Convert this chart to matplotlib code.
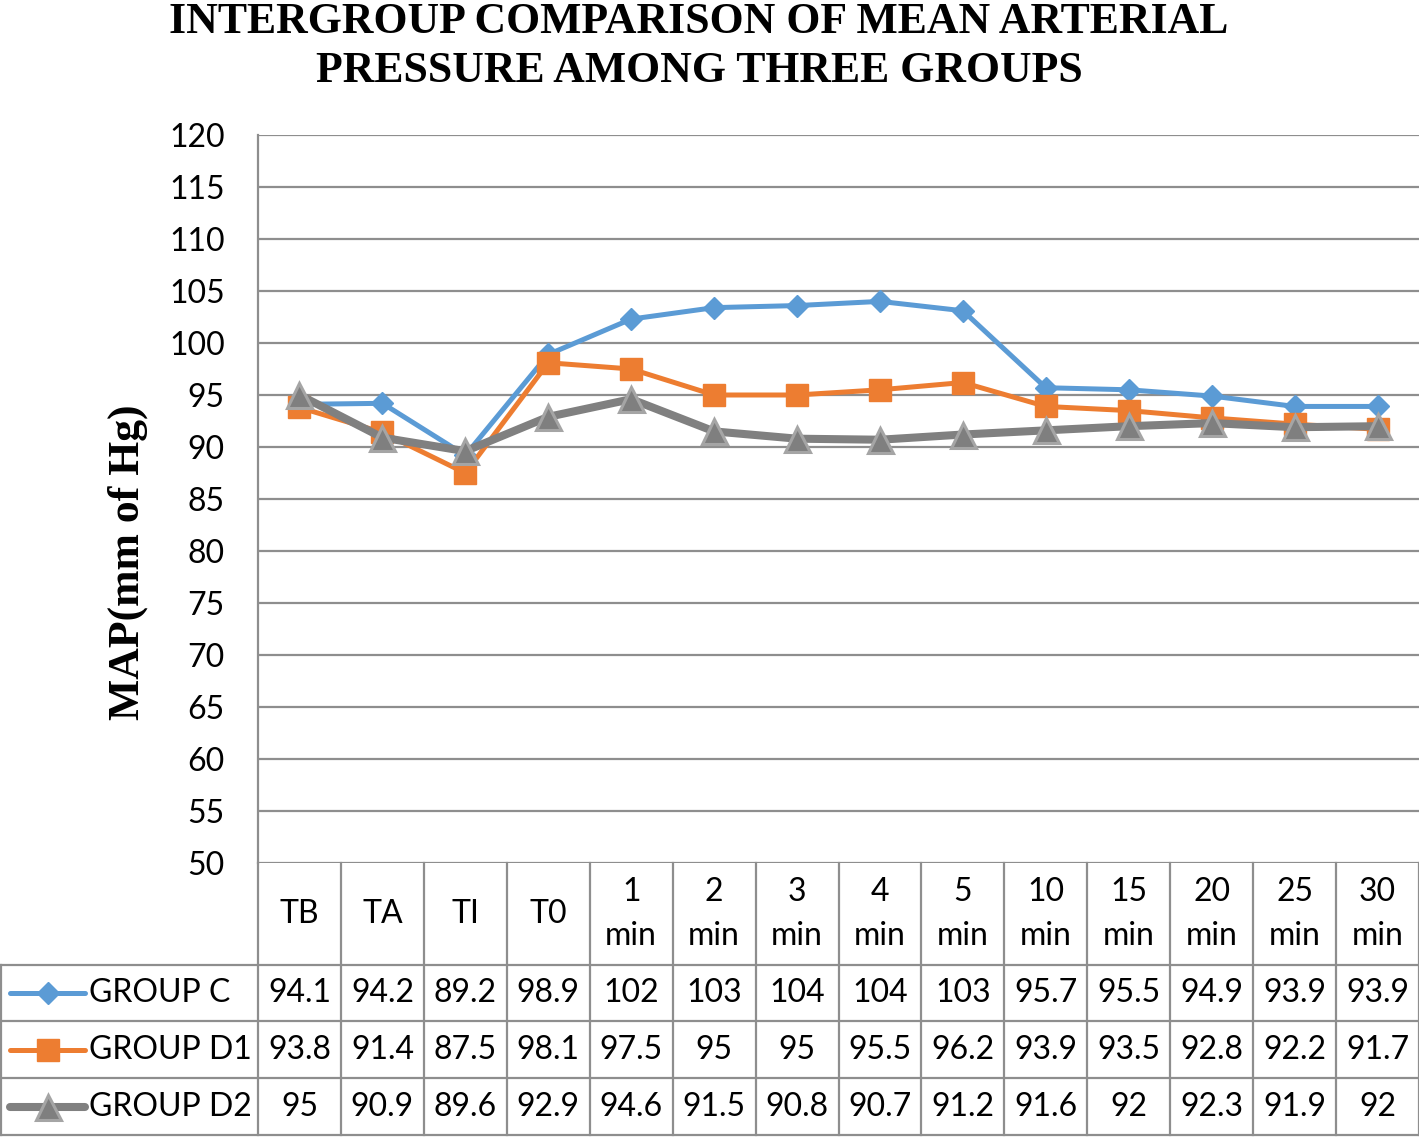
import matplotlib
matplotlib.use("Agg")
import matplotlib.pyplot as plt

categories = ["TB", "TA", "TI", "T0", "1\nmin", "2\nmin", "3\nmin", "4\nmin",
              "5\nmin", "10\nmin", "15\nmin", "20\nmin", "25\nmin", "30\nmin"]
group_c = [94.1, 94.2, 89.2, 98.9, 102.3, 103.4, 103.6, 104.0, 103.1, 95.7, 95.5, 94.9, 93.9, 93.9]
group_d1 = [93.8, 91.4, 87.5, 98.1, 97.5, 95.0, 95.0, 95.5, 96.2, 93.9, 93.5, 92.8, 92.2, 91.7]
group_d2 = [95.0, 90.9, 89.6, 92.9, 94.6, 91.5, 90.8, 90.7, 91.2, 91.6, 92.0, 92.3, 91.9, 92.0]
series_names = ["GROUP C", "GROUP D1", "GROUP D2"]
y_ticks = list(range(50, 121, 5))

W, H = 1419, 1137
GRID = "#8E8E8E"
SANS = ["Lato", "DejaVu Sans"]
SERIF = ["Liberation Serif", "DejaVu Serif"]
FS = 23

styles = [
    dict(color="#5B9BD5", lw=3.6, marker="D", ms=11, mfc="#5B9BD5", mec="#5B9BD5"),
    dict(color="#ED7D31", lw=3.6, marker="s", ms=16, mfc="#ED7D31", mec="#ED7D31"),
    dict(color="#808080", lw=5.8, marker="^", ms=18, mfc="#7F7F7F", mec="#A5A5A5", mew=2.2),
]


def fmt(v):
    if v >= 100:
        return f"{round(v):.0f}"
    s = f"{v:.1f}"
    return s[:-2] if s.endswith(".0") else s


fig = plt.figure(figsize=(W / 100, H / 100), dpi=100)

# plot area
left_px, top_px, bottom_px = 258, 135, 863
ax = fig.add_axes([left_px / W, 1 - bottom_px / H, (W - left_px) / W, (bottom_px - top_px) / H])
x = list(range(len(categories)))
for vals, st in zip([group_c, group_d1, group_d2], styles):
    ax.plot(x, vals, solid_joinstyle="round", clip_on=False, zorder=3, **st)
ax.set_xlim(-0.5, len(categories) - 0.5)
ax.set_ylim(50, 120)
ax.set_yticks(y_ticks)
ax.set_yticklabels([str(t) for t in y_ticks], fontfamily=SANS, fontsize=FS)
ax.set_xticks([])
ax.tick_params(axis="y", length=0, pad=24)
ax.yaxis.grid(True, color=GRID, lw=1.6)
ax.set_axisbelow(True)
for sp in ax.spines.values():
    sp.set_visible(False)

# data table below
unit = (W - left_px) / len(categories)
xmin = -0.5 - left_px / unit
tab = fig.add_axes([0, 0, 1, 1 - bottom_px / H])
tab.set_xlim(xmin, len(categories) - 0.5)
tab.set_ylim(H, bottom_px)
tab.axis("off")

row_lines = [965, 1021, 1078, 1135]
for y in row_lines:
    tab.plot([xmin + 1 / unit, len(categories) - 0.5], [y, y], color=GRID, lw=1.6, clip_on=False)
tab.plot([xmin + 1 / unit] * 2, [row_lines[0], row_lines[-1]], color=GRID, lw=1.6, clip_on=False)
for i in range(len(categories) + 1):
    tab.plot([i - 0.5, i - 0.5], [bottom_px, row_lines[-1]], color=GRID, lw=1.6, clip_on=False)
# left axis line through the plot area
fig.add_artist(plt.Line2D([left_px / W] * 2, [1 - top_px / H, 1 - bottom_px / H], color=GRID, lw=1.6))

for i, cat in enumerate(categories):
    tab.text(i, 914, cat, ha="center", va="center", fontfamily=SANS, fontsize=FS, linespacing=1.55)

row_centers = [993, 1050, 1107]
for vals, name, st, yc in zip([group_c, group_d1, group_d2], series_names, styles, row_centers):
    for i, v in enumerate(vals):
        tab.text(i, yc, fmt(v), ha="center", va="center", fontfamily=SANS, fontsize=FS)
    kx = [xmin + 10 / unit, xmin + 85 / unit]
    tab.plot(kx, [yc, yc], color=st["color"], lw=st["lw"], solid_capstyle="round")
    tab.plot([sum(kx) / 2], [yc], ls="none", marker=st["marker"], ms=st["ms"], mfc=st["mfc"],
             mec=st["mec"], mew=st.get("mew", 1.0))
    tab.text(xmin + 89 / unit, yc, name, ha="left", va="center", fontfamily=SANS, fontsize=FS)

# titles
fig.text(699 / W, 1 - 33 / H, "INTERGROUP COMPARISON OF MEAN ARTERIAL", ha="center", va="baseline",
         fontfamily=SERIF, fontweight="bold", fontsize=31.5)
fig.text(699 / W, 1 - 82 / H, "PRESSURE AMONG THREE GROUPS", ha="center", va="baseline",
         fontfamily=SERIF, fontweight="bold", fontsize=31.5)
fig.text(128 / W, 1 - 562 / H, "MAP(mm of Hg)", ha="center", va="center", rotation=90,
         fontfamily=SERIF, fontweight="bold", fontsize=31.5)

fig.savefig("out.png", dpi=100)
